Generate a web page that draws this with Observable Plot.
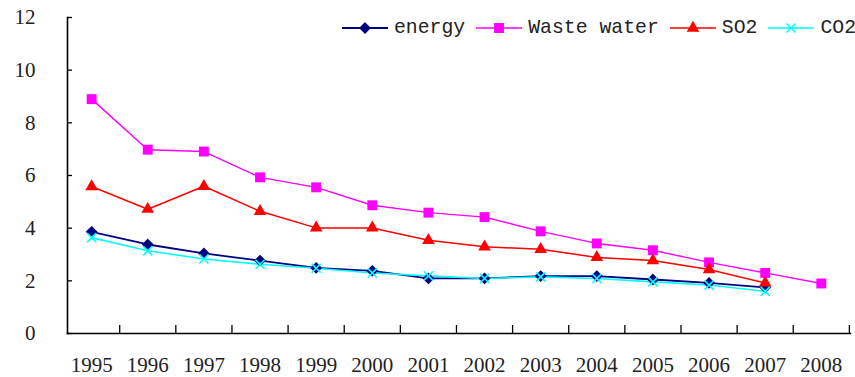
<!DOCTYPE html>
<html><head><meta charset="utf-8">
<script src="https://cdn.jsdelivr.net/npm/d3@7"></script>
<script src="https://cdn.jsdelivr.net/npm/@observablehq/plot@0.6"></script>
<style>
body{margin:0;background:#fff;}
#wrap{position:relative;width:855px;height:377px;overflow:hidden;background:#fff;}
#legend{position:absolute;left:342px;top:19px;display:flex;align-items:center;font-family:"Liberation Mono",monospace;font-size:19.8px;line-height:18px;white-space:nowrap;color:#222;}
#legend .item{display:flex;align-items:center;margin-right:11px;}
#legend svg{display:block;margin-right:6px;}
</style>
</head><body>
<div id="wrap"><div id="legend"></div></div>
<script>
const years = [1995,1996,1997,1998,1999,2000,2001,2002,2003,2004,2005,2006,2007,2008];
const energy = [3.86,3.38,3.04,2.77,2.49,2.38,2.09,2.09,2.18,2.18,2.05,1.92,1.75,null];
const wasteWater = [8.90,6.98,6.91,5.93,5.55,4.87,4.59,4.42,3.88,3.42,3.16,2.70,2.30,1.90];
const so2 = [5.58,4.72,5.59,4.64,4.01,4.01,3.54,3.29,3.20,2.89,2.77,2.43,1.92,null];
const co2 = [3.64,3.14,2.83,2.63,2.48,2.30,2.19,2.09,2.15,2.09,1.96,1.84,1.60,null];
const yTicks = [0,2,4,6,8,10,12];
const xDomain = [1994.57, 2008.52];

const series = [
  {name:"energy", values: energy, color:"#000080", symbol:"diamond2", r:4.3, fill:"#000080", stroke:"#000080", sw:1.8},
  {name:"Waste water", values: wasteWater, color:"#ff00ff", symbol:"square", r:5.6, fill:"#ff00ff", stroke:"none", sw:1.4},
  {name:"SO2", values: so2, color:"#ff0000", symbol:"triangle", r:4.7, fill:"#ff0000", stroke:"none", sw:1.5},
  {name:"CO2", values: co2, color:"#00ffff", symbol:"times", r:4.2, fill:"none", stroke:"#00ffff", sw:1.6}
];
const rows = [];
for (const s of series) years.forEach((yr,i)=>{ if (s.values[i]!=null) rows.push({series:s.name, year:yr, value:s.values[i]}); });
const boundaries = years.map(y=>y+0.5);

const marks = [
  Plot.axisY({ticks: yTicks, tickSize: -5, tickFormat: () => "", label: null, strokeWidth: 1.3}),
  Plot.axisY({ticks: yTicks, tickSize: 0, tickPadding: 32, tickFormat: d => String(d), label: null, fill:"#222"}),
  Plot.axisX({ticks: boundaries, tickSize: -8, tickFormat: () => "", label: null, strokeWidth: 1.3}),
  Plot.axisX({ticks: years, tickSize: 0, tickPadding: 24, tickFormat: d => String(d), label: null, fill:"#222"}),
  Plot.frame({anchor:"left", strokeWidth:1.6}),
  Plot.frame({anchor:"bottom", strokeWidth:1.6})
];
for (const s of series) {
  marks.push(Plot.line(rows, {filter: d => d.series === s.name, x:"year", y:"value", stroke: s.color, strokeWidth: s.sw}));
}
for (const s of series) {
  marks.push(Plot.dot(rows, {filter: d => d.series === s.name, x:"year", y:"value", symbol: s.symbol, r: s.r, fill: s.fill, stroke: s.stroke, strokeWidth: 1.6}));
}

const chart = Plot.plot({
  width: 855, height: 377,
  marginLeft: 67, marginRight: 5, marginTop: 17, marginBottom: 44,
  style: {fontFamily: "'Liberation Serif', serif", fontSize: "21px", background: "#fff", overflow: "visible"},
  x: {type: "linear", domain: xDomain},
  y: {domain: [0, 12]},
  marks
});
const wrap = document.getElementById("wrap");
wrap.insertBefore(chart, wrap.firstChild);

const symMap = {diamond2: d3.symbolDiamond2, square: d3.symbolSquare, triangle: d3.symbolTriangle, times: d3.symbolTimes};
const legend = d3.select("#legend");
for (const s of series) {
  const item = legend.append("div").attr("class","item");
  const svg = item.append("svg").attr("width",46).attr("height",18);
  svg.append("line").attr("x1",0).attr("x2",46).attr("y1",9).attr("y2",9).attr("stroke",s.color).attr("stroke-width",s.sw);
  svg.append("path").attr("transform","translate(23,9)")
    .attr("d", d3.symbol(symMap[s.symbol], s.r*s.r*Math.PI)())
    .attr("fill", s.fill).attr("stroke", s.stroke).attr("stroke-width",1.6);
  item.append("span").text(s.name);
}
</script>
</body></html>
